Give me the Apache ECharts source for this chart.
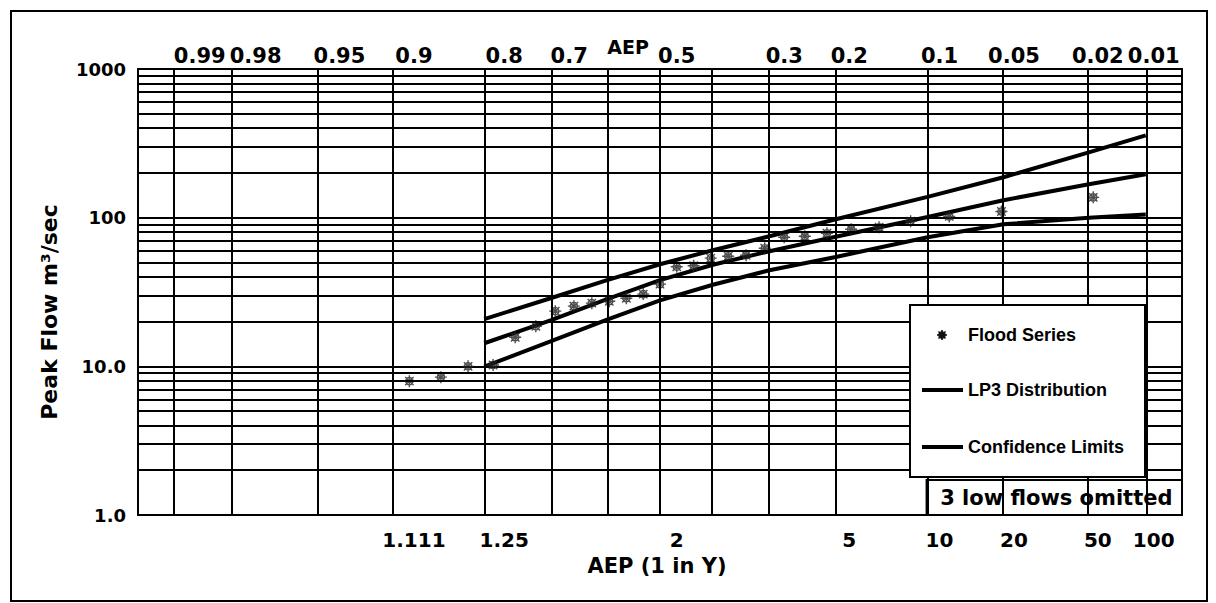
<!DOCTYPE html>
<html><head><meta charset="utf-8">
<script src="https://cdn.jsdelivr.net/npm/echarts@6/dist/echarts.min.js"></script>
<style>html,body{margin:0;padding:0;background:#fff}#c{width:1216px;height:603px}</style>
</head><body><div id="c"></div>
<script>
// ---------------- data ----------------
const gridAEP = [0.99, 0.98, 0.95, 0.9, 0.8, 0.7, 0.6, 0.5, 0.4, 0.3, 0.2, 0.1, 0.05, 0.02, 0.01];
const topTickAEP = [0.99, 0.98, 0.95, 0.9, 0.8, 0.7, 0.5, 0.3, 0.2, 0.1, 0.05, 0.02, 0.01];
const topTickLabels = ['0.99', '0.98', '0.95', '0.9', '0.8', '0.7', '0.5', '0.3', '0.2', '0.1', '0.05', '0.02', '0.01'];
const bottomTickAEP = [0.9, 0.8, 0.5, 0.2, 0.1, 0.05, 0.02, 0.01];
const bottomTickLabels = ['1.111', '1.25', '2', '5', '10', '20', '50', '100'];
const yTickValues = [1, 10, 100, 1000];
const yTickLabels = ['1.0', '10.0', '100', '1000'];
const yMinorValues = [2, 3, 4, 5, 6, 7, 8, 9, 20, 30, 40, 50, 60, 70, 80, 90, 200, 300, 400, 500, 600, 700, 800, 900];
const legendNames = ['Flood Series', 'LP3 Distribution', 'Confidence Limits'];

const floodAEP = [0.019, 0.051, 0.083, 0.115, 0.147, 0.180, 0.212, 0.244, 0.276, 0.308, 0.340, 0.372, 0.404, 0.436,
                  0.468, 0.500, 0.532, 0.564, 0.596, 0.628, 0.660, 0.692, 0.724, 0.756, 0.788, 0.821, 0.853, 0.885];
const floodFlow = [137, 110, 102, 94.6, 86.2, 83.6, 78.6, 75.0, 73.9, 62.3, 55.9, 55.0, 53.4, 47.5,
                   46.8, 35.7, 30.6, 28.7, 27.4, 26.6, 25.4, 23.5, 18.6, 15.7, 10.2, 10.0, 8.46, 7.95];

const curveAEP = [0.8, 0.7, 0.6, 0.5, 0.4, 0.3, 0.2, 0.1, 0.05, 0.02, 0.01];
const lp3Flow = [14.3, 20.4, 28.3, 38.0, 48.2, 59.5, 74.5, 101, 131, 168, 196];
const upperFlow = [20.8, 28.7, 38.0, 48.6, 60.4, 75.0, 97.5, 138, 187, 275, 358];
const lowerFlow = [9.95, 14.7, 20.6, 27.8, 35.4, 44.3, 54.4, 73.8, 90.3, 99.8, 105];

// ---------------- probability scale ----------------
function normInv(p) {
  const a = [-3.969683028665376e+01, 2.209460984245205e+02, -2.759285104469687e+02, 1.383577518672690e+02, -3.066479806614716e+01, 2.506628277459239e+00];
  const b = [-5.447609879822406e+01, 1.615858368580409e+02, -1.556989798598866e+02, 6.680131188771972e+01, -1.328068155288572e+01];
  const c = [-7.784894002430293e-03, -3.223964580411365e-01, -2.400758277161838e+00, -2.549732539343734e+00, 4.374664141464968e+00, 2.938163982698783e+00];
  const d = [7.784695709041462e-03, 3.224671290700398e-01, 2.445134137142996e+00, 3.754408661907416e+00];
  const pl = 0.02425, ph = 1 - pl; let q, r;
  if (p < pl) { q = Math.sqrt(-2 * Math.log(p)); return (((((c[0]*q+c[1])*q+c[2])*q+c[3])*q+c[4])*q+c[5]) / ((((d[0]*q+d[1])*q+d[2])*q+d[3])*q+1); }
  if (p <= ph) { q = p - 0.5; r = q*q; return (((((a[0]*r+a[1])*r+a[2])*r+a[3])*r+a[4])*r+a[5])*q / (((((b[0]*r+b[1])*r+b[2])*r+b[3])*r+b[4])*r+1); }
  q = Math.sqrt(-2 * Math.log(1 - p));
  return -(((((c[0]*q+c[1])*q+c[2])*q+c[3])*q+c[4])*q+c[5]) / ((((d[0]*q+d[1])*q+d[2])*q+d[3])*q+1);
}
const zOf = aep => normInv(1 - aep);
// tick labels in the original sit slightly right of their gridlines
const labelZ = aep => 0.08 + 0.982 * zOf(aep);

const FONT = '"DejaVu Sans", sans-serif';
const LEGEND_FONT = 'bold 18px "Liberation Sans", Arial, sans-serif';
const BLACK = '#000';
const STAR_PATH = 'M2,5 A3,3 0 1,1 8,5 A3,3 0 1,1 2,5 Z M5,0 L5,10 M0,5 L10,5 M1.5,1.5 L8.5,8.5 M1.5,8.5 L8.5,1.5';

const chart = echarts.init(document.getElementById('c'), null, { renderer: 'svg' });

const markLineData = gridAEP.map(a => ({ xAxis: zOf(a) })).concat(yMinorValues.map(v => ({ yAxis: v })));

const option = {
  animation: false,
  backgroundColor: '#fff',
  grid: { left: 138, top: 69, right: 34, bottom: 88, show: true, borderColor: BLACK, borderWidth: 2, backgroundColor: 'transparent' },
  xAxis: {
    type: 'value', min: -2.5, max: 2.5,
    axisLine: { show: false }, axisTick: { show: false }, axisLabel: { show: false }, splitLine: { show: false }
  },
  yAxis: {
    type: 'log', logBase: 10, min: 1, max: 1000,
    axisLine: { show: false },
    axisTick: { show: true, length: 6, lineStyle: { color: BLACK, width: 2 } },
    axisLabel: {
      margin: 12, color: BLACK, fontFamily: FONT, fontWeight: 'bold', fontSize: 18,
      formatter: v => { const i = yTickValues.findIndex(t => Math.abs(t - v) < 1e-6 * t); return i >= 0 ? yTickLabels[i] : ''; }
    },
    splitLine: { show: true, lineStyle: { color: BLACK, width: 2 } }
  },
  series: [
    {
      type: 'line', name: 'grid', data: [], silent: true, z: 1,
      markLine: {
        silent: true, symbol: ['none', 'none'], label: { show: false },
        lineStyle: { color: BLACK, width: 2, type: 'solid' },
        emphasis: { disabled: true },
        data: markLineData
      }
    },
    {
      type: 'line', name: legendNames[2], symbol: 'none', z: 3,
      lineStyle: { color: BLACK, width: 4 }, itemStyle: { color: BLACK },
      data: curveAEP.map((a, i) => [zOf(a), upperFlow[i]])
    },
    {
      type: 'line', name: legendNames[2], symbol: 'none', z: 3,
      lineStyle: { color: BLACK, width: 4 }, itemStyle: { color: BLACK },
      data: curveAEP.map((a, i) => [zOf(a), lowerFlow[i]])
    },
    {
      type: 'line', name: legendNames[1], symbol: 'none', z: 3,
      lineStyle: { color: BLACK, width: 4 }, itemStyle: { color: BLACK },
      data: curveAEP.map((a, i) => [zOf(a), lp3Flow[i]])
    },
    {
      type: 'scatter', name: legendNames[0], z: 4,
      symbol: 'path://' + STAR_PATH, symbolSize: 12,
      itemStyle: { color: 'rgba(255,255,255,0)', borderColor: '#222', borderWidth: 1.4 },
      data: floodAEP.map((a, i) => [zOf(a), floodFlow[i]])
    }
  ]
};
chart.setOption(option);

// ---------------- texts & legend placed around the axes ----------------
const xPix = z => chart.convertToPixel({ xAxisIndex: 0 }, z);
const yPix = v => chart.convertToPixel({ yAxisIndex: 0 }, v);
const plotTop = yPix(1000), plotBottom = yPix(1), plotRight = xPix(2.5);

const txt = (text, x, y, size, extra) => Object.assign({
  type: 'text', x: x, y: y, silent: true, z: 100,
  style: { text: text, fill: BLACK, font: 'bold ' + size + 'px ' + FONT, textAlign: 'center', textVerticalAlign: 'middle' }
}, extra || {});

const graphics = [];
// outer frame
graphics.push({ type: 'rect', silent: true, z: 0, shape: { x: 11, y: 11, width: 1196, height: 590 },
  style: { fill: 'none', stroke: BLACK, lineWidth: 2 } });
topTickAEP.forEach((a, i) => graphics.push(txt(topTickLabels[i], xPix(labelZ(a)), plotTop - 13, 21)));
bottomTickAEP.forEach((a, i) => graphics.push(txt(bottomTickLabels[i], xPix(labelZ(a)), plotBottom + 25, 20)));
graphics.push(txt('AEP', 628, plotTop - 22, 19));
graphics.push(txt('AEP (1 in Y)', 657, plotBottom + 51, 21));
graphics.push(txt('Peak Flow m³/sec', 49, 312, 22, { rotation: Math.PI / 2 }));

// legend box
const LG = { x: 910, y: 305, w: 235, h: 172 };
const rowY = [335, 390, 447];
const mk = { x: 942, y: rowY[0] };
graphics.push({ type: 'rect', silent: true, z: 60, shape: { x: LG.x, y: LG.y, width: LG.w, height: LG.h },
  style: { fill: '#fff', stroke: BLACK, lineWidth: 2 } });
graphics.push({ type: 'circle', silent: true, z: 61, shape: { cx: mk.x, cy: mk.y, r: 3 },
  style: { fill: '#222', stroke: '#111', lineWidth: 1.5 } });
[[0, -5, 0, 5], [-5, 0, 5, 0], [-3.5, -3.5, 3.5, 3.5], [-3.5, 3.5, 3.5, -3.5]].forEach(s => graphics.push({
  type: 'line', silent: true, z: 61, shape: { x1: mk.x + s[0], y1: mk.y + s[1], x2: mk.x + s[2], y2: mk.y + s[3] },
  style: { stroke: '#111', lineWidth: 1.6 } }));
[1, 2].forEach(k => graphics.push({ type: 'line', silent: true, z: 61,
  shape: { x1: 922, y1: rowY[k], x2: 963, y2: rowY[k] }, style: { stroke: BLACK, lineWidth: 4 } }));
legendNames.forEach((n, k) => graphics.push({ type: 'text', silent: true, z: 61, x: 968, y: rowY[k],
  style: { text: n, fill: BLACK, font: LEGEND_FONT, textAlign: 'left', textVerticalAlign: 'middle' } }));

// "3 low flows omitted" box
const boxLeft = xPix(zOf(0.1)) - 1;
graphics.push({ type: 'rect', silent: true, z: 50, shape: { x: boxLeft, y: plotBottom - 35, width: plotRight - boxLeft, height: 35 },
  style: { fill: 'none', stroke: BLACK, lineWidth: 2 } });
graphics.push(txt('3 low flows omitted', (boxLeft + plotRight) / 2 + 2, plotBottom - 17, 21));

chart.setOption({ graphic: graphics });
</script>
</body></html>
